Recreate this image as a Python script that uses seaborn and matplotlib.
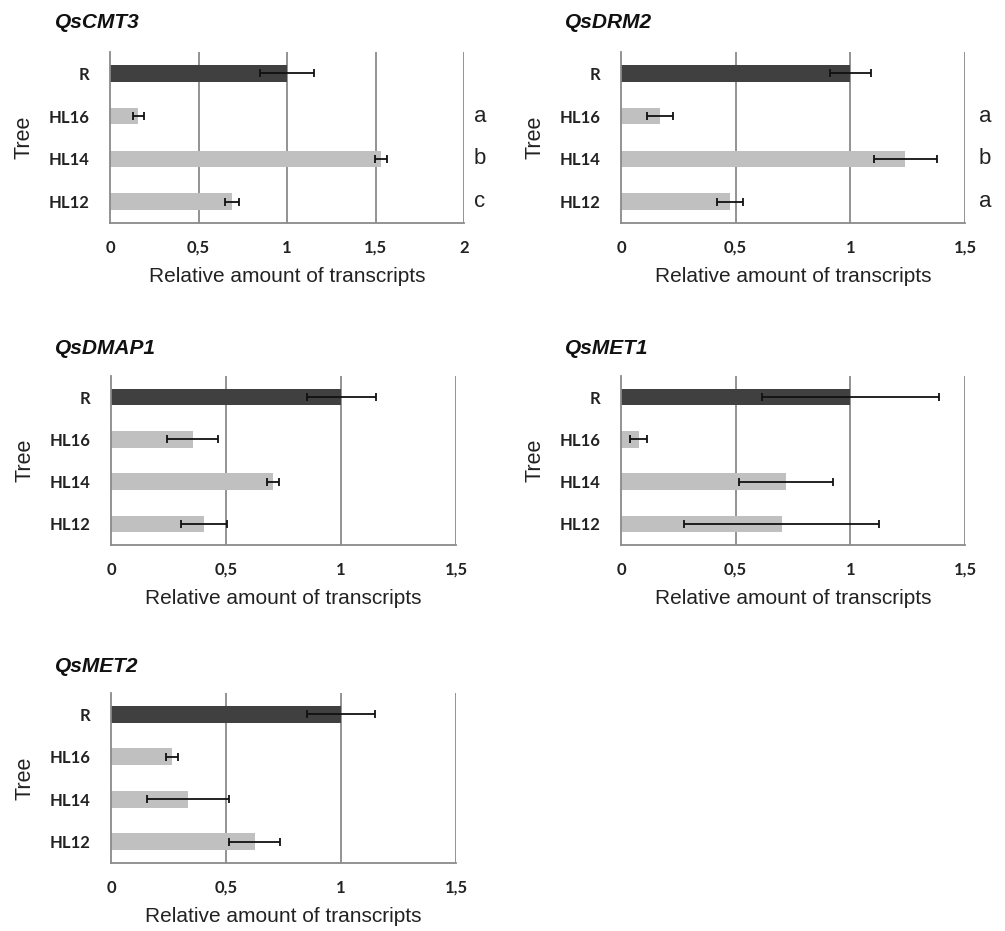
import numpy as np
import pandas as pd
import seaborn as sns
import matplotlib.pyplot as plt
import matplotlib.transforms as mtransforms
from matplotlib.ticker import FixedLocator

# relative transcript levels
trees = ["R", "HL16", "HL14", "HL12"]

cmt3_mean = [1.0, 0.16, 1.53, 0.69]
cmt3_err = [0.15, 0.03, 0.035, 0.04]
cmt3_letters = ["", "a", "b", "c"]

drm2_mean = [1.0, 0.17, 1.24, 0.475]
drm2_err = [0.09, 0.058, 0.137, 0.057]
drm2_letters = ["", "a", "b", "a"]

dmap1_mean = [1.0, 0.355, 0.705, 0.405]
dmap1_err = [0.15, 0.112, 0.026, 0.10]

met1_mean = [1.0, 0.077, 0.72, 0.70]
met1_err = [0.385, 0.036, 0.204, 0.425]

met2_mean = [1.0, 0.265, 0.335, 0.625]
met2_err = [0.148, 0.025, 0.18, 0.11]

xmax_list = [2.0, 1.5, 1.5, 1.5, 1.5]
xtick_step = 0.5

sns.set_style("white")
plt.rcParams['font.family'] = ['Liberation Sans', 'DejaVu Sans']

W, H = 1005, 931
fig = plt.figure(figsize=(W / 100, H / 100), dpi=100)

# panel boxes in pixels: left, top, right, bottom
boxes = [(110, 52, 464, 223), (621, 52, 965, 223),
         (111, 376, 456, 545), (621, 376, 965, 545),
         (111, 693, 456, 863)]
title_pos = [(55, 22), (565, 22), (55, 348), (565, 348), (55, 667)]
letter_x = [480, 985]

panels = [("QsCMT3", cmt3_mean, cmt3_err, cmt3_letters),
          ("QsDRM2", drm2_mean, drm2_err, drm2_letters),
          ("QsDMAP1", dmap1_mean, dmap1_err, None),
          ("QsMET1", met1_mean, met1_err, None),
          ("QsMET2", met2_mean, met2_err, None)]

palette = {"R": "#404040", "HL16": "#c0c0c0", "HL14": "#c0c0c0", "HL12": "#c0c0c0"}
gridc = "#8a8a8a"
tickfont = dict(family=['Lato', 'DejaVu Sans'], weight='bold', size=12, color='#222222')

for i, (name, mean, err, letters) in enumerate(panels):
    l, t, r, b = boxes[i]
    ax = fig.add_axes([l / W, 1 - b / H, (r - l) / W, (b - t) / H])
    df = pd.DataFrame({"tree": trees, "val": mean})
    sns.barplot(data=df, x="val", y="tree", hue="tree", palette=palette,
                order=trees, hue_order=trees, legend=False, width=0.39,
                ax=ax, linewidth=0, errorbar=None)
    ax.errorbar(mean, np.arange(len(trees)), xerr=err, fmt='none',
                ecolor='#111111', elinewidth=1.3, capsize=3, capthick=1.3, zorder=5)

    xmax = xmax_list[i]
    ax.set_xlim(0, xmax)
    ax.set_ylim(3.5, -0.5)
    xt = np.arange(0, xmax + 0.01, xtick_step)
    ax.set_xticks(xt)
    ax.set_xticklabels([("%g" % v).replace(".", ",") for v in xt], va='baseline', **tickfont)
    ax.set_yticks(range(len(trees)))
    ax.set_yticklabels(trees, **tickfont)
    ax.yaxis.set_minor_locator(FixedLocator([-0.5, 0.5, 1.5, 2.5, 3.5]))
    ax.tick_params(axis='y', which='major', length=0, pad=15)
    ax.tick_params(axis='y', which='minor', length=5, width=1.2, color=gridc, direction='out')
    ax.tick_params(axis='x', which='major', length=0, pad=21.5)

    for v in xt[1:]:
        ax.axvline(v, color=gridc, lw=1.3, zorder=0)
    for s in ["top", "right"]:
        ax.spines[s].set_visible(False)
    for s in ["left", "bottom"]:
        ax.spines[s].set_color(gridc)
        ax.spines[s].set_linewidth(1.3)

    ax.set_xlabel("Relative amount of transcripts", fontsize=15, color='#222222', labelpad=8)
    ax.set_ylabel("Tree", fontsize=15.5, color='#222222', labelpad=10)
    ax.grid(False)

    tx, ty = title_pos[i]
    fig.text(tx / W, 1 - ty / H, name, fontsize=15, fontweight='bold', fontstyle='italic',
             va='center', ha='left', color='#111111')

    if letters is not None:
        trans = mtransforms.blended_transform_factory(fig.transFigure, ax.transData)
        for k, let in enumerate(letters):
            if let:
                ax.text(letter_x[i] / W, k, let, transform=trans, ha='center', va='center',
                        fontsize=16, color='#222222')

fig.savefig("out.png", dpi=100)
